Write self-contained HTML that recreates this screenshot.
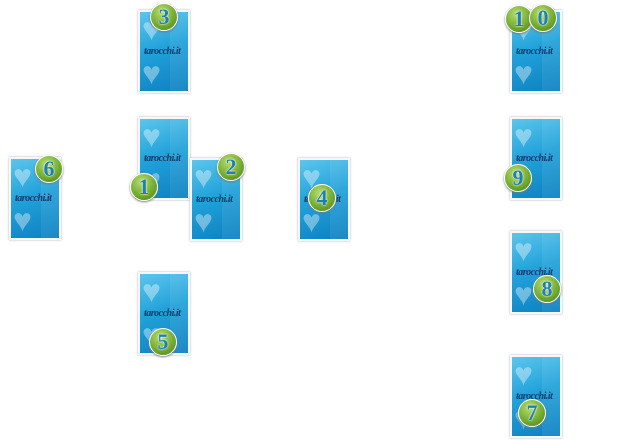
<!DOCTYPE html>
<html><head><style>
body{margin:0;width:628px;height:441px;background:#fff;position:relative;overflow:hidden;font-family:"Liberation Sans",sans-serif}
.c{position:absolute;width:48px;height:79px;border:2px solid #f4f8fa;box-shadow:0 0 2px #aab;background:linear-gradient(160deg,#5cc6ec 0%,#22a2da 45%,#0d80c0 100%);overflow:hidden}
.c:before{content:"";position:absolute;left:30px;top:0;width:18px;height:79px;background:rgba(255,255,255,0.07)}
.h{position:absolute;left:2px;font-size:32px;line-height:30px;color:rgba(255,255,255,0.38)}
.t{position:absolute;left:4px;top:34px;font-family:"Liberation Serif",serif;font-style:italic;font-weight:bold;font-size:10px;color:#0f3d6c;letter-spacing:-0.5px}
.b{position:absolute;width:26px;height:26px;border-radius:50%;background:radial-gradient(circle at 40% 30%,#b6dc6c,#6ea82c 60%,#4b8218);border:1px solid #fff;box-shadow:0 1px 2px #777;color:#1e7fb2;font-weight:bold;font-size:22px;line-height:26px;text-align:center;font-family:"Liberation Serif",serif;text-shadow:0 0 2px #fff,0 0 1px #fff}
</style></head><body>
<div class="c" style="left:138px;top:10px"><span class="h" style="top:2px">♥</span><span class="t">tarocchi.it</span><span class="h" style="top:46px">♥</span></div>
<div class="c" style="left:138px;top:117px"><span class="h" style="top:2px">♥</span><span class="t">tarocchi.it</span><span class="h" style="top:46px">♥</span></div>
<div class="c" style="left:190px;top:158px"><span class="h" style="top:2px">♥</span><span class="t">tarocchi.it</span><span class="h" style="top:46px">♥</span></div>
<div class="c" style="left:9px;top:157px"><span class="h" style="top:2px">♥</span><span class="t">tarocchi.it</span><span class="h" style="top:46px">♥</span></div>
<div class="c" style="left:298px;top:158px"><span class="h" style="top:2px">♥</span><span class="t">tarocchi.it</span><span class="h" style="top:46px">♥</span></div>
<div class="c" style="left:138px;top:272px"><span class="h" style="top:2px">♥</span><span class="t">tarocchi.it</span><span class="h" style="top:46px">♥</span></div>
<div class="c" style="left:510px;top:10px"><span class="h" style="top:2px">♥</span><span class="t">tarocchi.it</span><span class="h" style="top:46px">♥</span></div>
<div class="c" style="left:510px;top:117px"><span class="h" style="top:2px">♥</span><span class="t">tarocchi.it</span><span class="h" style="top:46px">♥</span></div>
<div class="c" style="left:510px;top:231px"><span class="h" style="top:2px">♥</span><span class="t">tarocchi.it</span><span class="h" style="top:46px">♥</span></div>
<div class="c" style="left:510px;top:355px"><span class="h" style="top:2px">♥</span><span class="t">tarocchi.it</span><span class="h" style="top:46px">♥</span></div>

<div class="b" style="left:150px;top:3px">3</div>
<div class="b" style="left:130px;top:173px">1</div>
<div class="b" style="left:217px;top:153px">2</div>
<div class="b" style="left:35px;top:155px">6</div>
<div class="b" style="left:308px;top:184px">4</div>
<div class="b" style="left:149px;top:328px">5</div>
<div class="b" style="left:505px;top:5px">1</div>
<div class="b" style="left:529px;top:4px">0</div>
<div class="b" style="left:504px;top:164px">9</div>
<div class="b" style="left:533px;top:275px">8</div>
<div class="b" style="left:518px;top:399px">7</div>
</body></html>
